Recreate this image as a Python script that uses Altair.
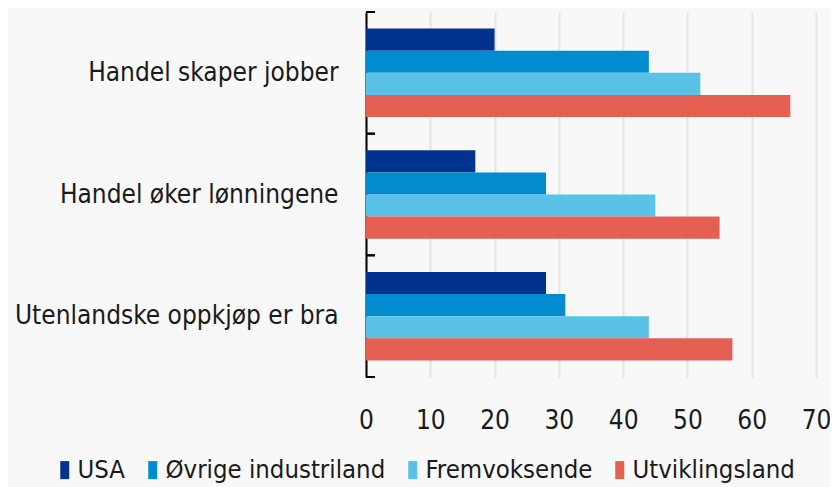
import altair as alt
import pandas as pd

questions = ["Handel skaper jobber", "Handel øker lønningene", "Utenlandske oppkjøp er bra"]
series = ["USA", "Øvrige industriland", "Fremvoksende", "Utviklingsland"]
usa = [20, 17, 28]
ovrige = [44, 28, 31]
fremvoksende = [52, 45, 44]
utvikling = [66, 55, 57]
colors = ["#00338d", "#008ccf", "#5bc2e7", "#e55f53"]
x_ticks = [0, 10, 20, 30, 40, 50, 60, 70]

rows = []
for s, vals in zip(series, [usa, ovrige, fremvoksende, utvikling]):
    for q, v in zip(questions, vals):
        rows.append({"q": q, "s": s, "v": v})
df = pd.DataFrame(rows)
dq = pd.DataFrame({"q": questions})

FONT = "DejaVu Sans Condensed, sans-serif"
yscale = alt.Scale(domain=questions, paddingInner=0, paddingOuter=0)
yaxis = alt.Axis(title=None, ticks=False, domain=True, domainColor="#000000", domainWidth=2,
                 labelFont=FONT, labelFontSize=26, labelPadding=28, labelColor="#1a1a1a",
                 grid=False, labelLimit=400)

bars = alt.Chart(df).mark_bar().encode(
    y=alt.Y("q:N", sort=questions, scale=yscale, axis=yaxis),
    yOffset=alt.YOffset("s:N", sort=series,
                        scale=alt.Scale(domain=series, paddingInner=0, paddingOuter=0.75)),
    x=alt.X("v:Q", scale=alt.Scale(domain=[0, 70], nice=False),
            axis=alt.Axis(values=x_ticks, title=None, domain=False, ticks=False, grid=True,
                          gridColor="#e4e4e4", gridWidth=2, labelFont=FONT, labelFontSize=26,
                          labelPadding=30, labelColor="#1a1a1a", labelFlush=False)),
    color=alt.Color("s:N", sort=series, scale=alt.Scale(domain=series, range=colors),
                    legend=alt.Legend(title=None, orient="none", direction="horizontal",
                                      legendX=-314, legendY=445,
                                      symbolType="M-0.5,-1H0.5V1H-0.5Z", symbolSize=324,
                                      symbolStrokeWidth=0, labelFont=FONT, labelFontSize=25.5,
                                      labelColor="#1a1a1a", labelOffset=0, columnPadding=14,
                                      labelLimit=400)),
)

ticks_top = alt.Chart(dq).mark_rule(color="#000000", strokeWidth=2).encode(
    y=alt.Y("q:N", sort=questions, scale=yscale, bandPosition=0, axis=yaxis),
    x=alt.value(0), x2=alt.value(9),
)
ticks_bot = alt.Chart(dq).mark_rule(color="#000000", strokeWidth=2).encode(
    y=alt.Y("q:N", sort=questions, scale=yscale, bandPosition=1, axis=yaxis),
    x=alt.value(0), x2=alt.value(9),
)

chart = alt.layer(bars, ticks_top, ticks_bot).properties(
    width=450, height=365,
    autosize=alt.AutoSizeParams(type="none"),
    padding={"left": 358, "top": 4, "right": 14, "bottom": 110},
    background="#f8f8f8",
).configure_view(stroke=None)

chart.save("out.html", embed_options={"renderer": "svg", "actions": False})
